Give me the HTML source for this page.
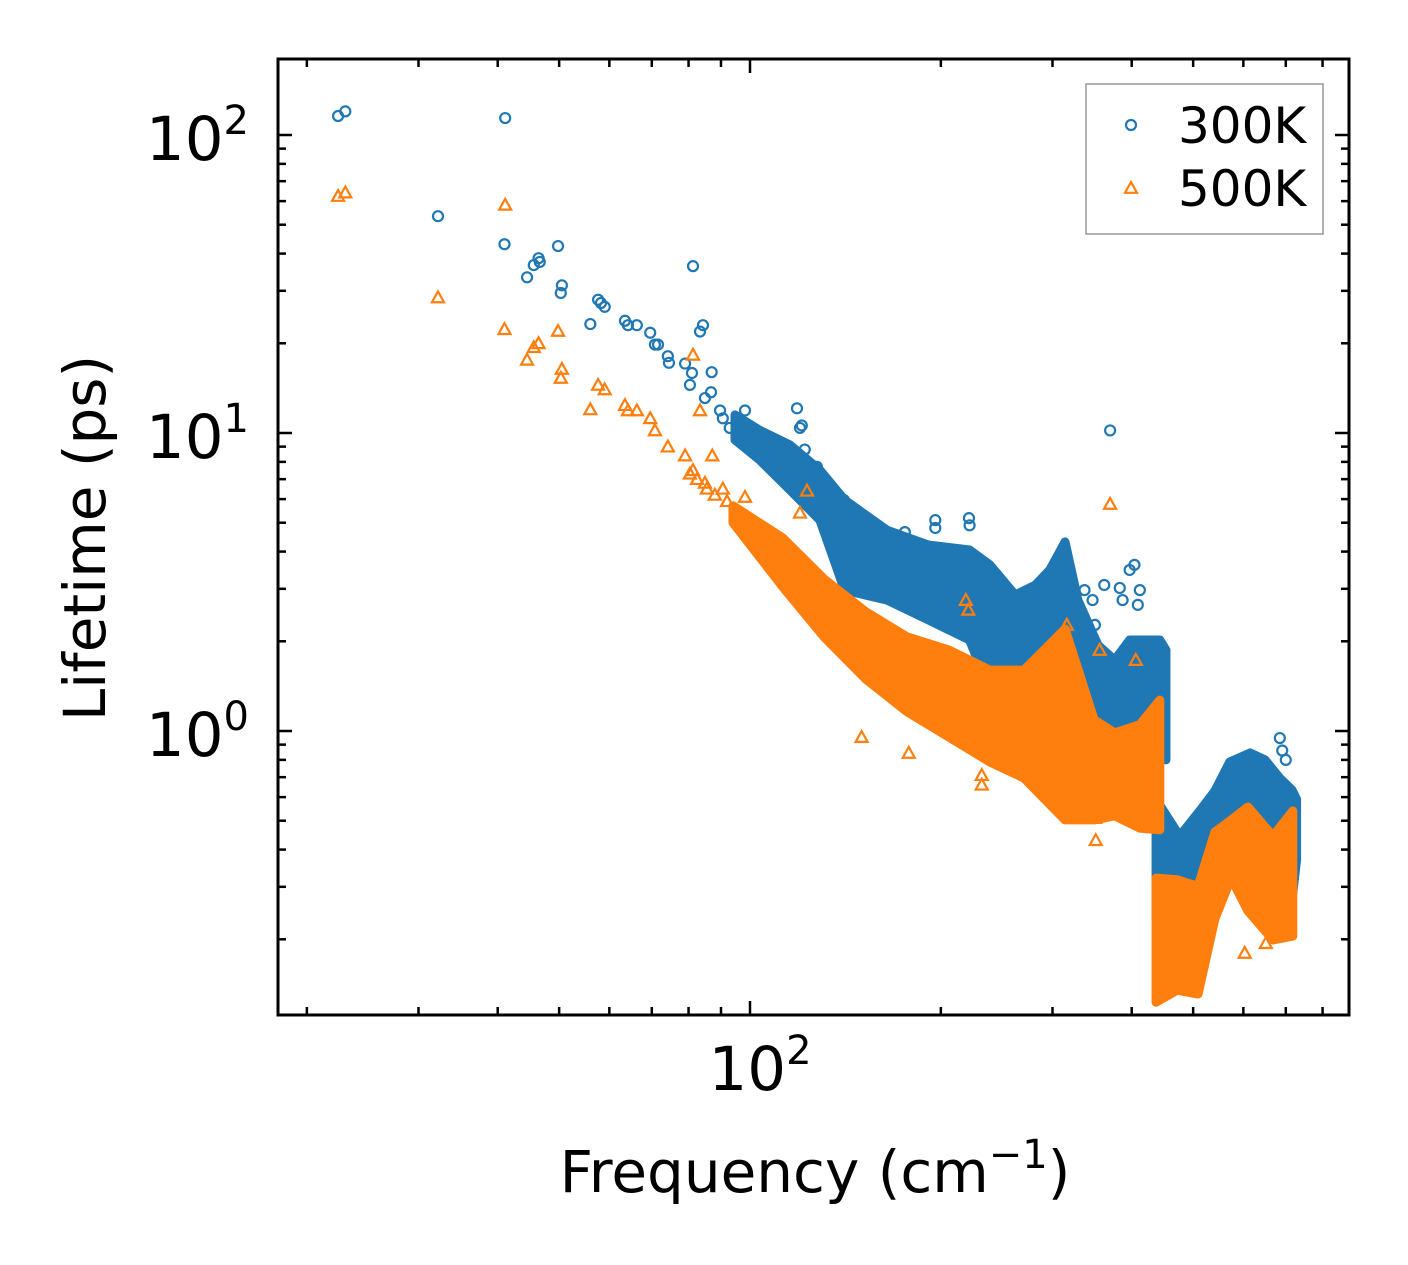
<!DOCTYPE html>
<html><head><meta charset="utf-8"><style>
html,body{margin:0;padding:0;background:#fff;}
svg{display:block;font-family:"DejaVu Sans","Liberation Sans",sans-serif;}
</style></head><body>
<svg id="chart" width="1408" height="1265" viewBox="0 0 1408 1265" xmlns="http://www.w3.org/2000/svg">
<g id="bands"></g><g id="marks"></g><g id="axes"></g>
</svg>
<script>
// ---- data ----
const blueFreq = [22.4,23.0,32.2,41.1,41,44.5,45.6,46.4,46.6,49.8,50.5,50.3,56,57.6,58.2,59,63.5,64.2,66.3,69.6,70.8,71.6,74.2,74.5,79,80.4,81,81.3,83.4,84.3,87,86.8,84.9,89.7,90.6,92.9,98.2,118.6,119.9,120.7,122,127.5,140.6,175.5,196,196,221.5,222,369.8,397,404,383,387,409,412,362,347,350,337,502,603,610,685,691,700];
const blueLife = [115.8,120,53.4,114,43,33.3,36.6,38.6,37.5,42.4,31.3,29.5,23.2,28,27.3,26.5,23.8,23,23,21.7,19.8,19.8,18.1,17.2,17.1,14.5,15.9,36.3,21.9,23,16,13.7,13.1,11.9,11.2,10.4,11.9,12.1,10.4,10.6,8.8,7.7,5.96,4.65,5.1,4.8,5.18,4.9,10.2,3.47,3.61,3.02,2.75,2.65,2.97,3.09,2.75,2.27,2.97,0.138,0.277,0.267,0.947,0.86,0.8];
const orangeFreq = [22.4,23,32.2,41.1,41,44.5,45.6,46.4,49.8,50.5,50.3,56,57.6,59,63.5,64.2,66.3,69.6,70.8,74.2,79,81.3,81.3,83.4,87.2,84.9,90.6,98.2,119.9,123,150,178,232,232,369.8,351,350,603,651,662,687,221,219,316,356,406,80.4,82.5,85.5,88,92];
const orangeLife = [62.4,64.1,28.5,58.3,22.3,17.6,19.4,20,22,16.4,15.3,12,14.5,14,12.4,11.9,11.9,11.2,10.2,9,8.4,18.3,7.5,11.9,8.4,6.8,6.5,6.1,5.4,6.4,0.954,0.844,0.711,0.66,5.78,0.43,0.51,0.18,0.194,0.223,0.32,2.55,2.75,2.27,1.87,1.73,7.3,7.0,6.5,6.2,5.9];
// dense bands (frequency, upper lifetime, lower lifetime)
const blueBandAFreq = [94.7,103.7,115.6,128.9,141,164.5,191,222,239,262,282,297,314,329,354,376,397,443,453];
const blueBandAHi = [11.5,10.2,9.12,7.51,5.96,4.72,4.21,4.05,3.61,2.86,3.09,3.47,4.31,2.75,1.94,1.73,2.02,2.02,1.87];
const blueBandALo = [9.48,8.1,6.44,5.1,2.97,2.75,2.36,2.02,1.37,1.18,1.27,1.27,1.18,1.09,1.01,0.93,1.09,0.93,0.8];
const blueBandBFreq = [437,476,512,541,571,615,649,685,716,728];
const blueBandBHi = [0.59,0.444,0.539,0.629,0.787,0.844,0.8,0.695,0.634,0.59];
const blueBandBLo = [0.232,0.232,0.273,0.321,0.321,0.321,0.27,0.234,0.271,0.37];
const orangeBandAFreq = [94,112.7,130.8,152.4,176.9,206,239,270.5,314,349,376,412,443];
const orangeBandAHi = [5.7,4.44,3.24,2.51,2.07,1.87,1.6,1.6,2.2,1.09,0.985,1.05,1.27];
const orangeBandALo = [5.0,3.04,2.07,1.49,1.16,0.954,0.787,0.695,0.503,0.503,0.519,0.472,0.466];
const orangeBandBFreq = [437,471.6,509,541,574,610,668,718];
const orangeBandBHi = [0.321,0.317,0.301,0.458,0.503,0.556,0.444,0.539];
const orangeBandBLo = [0.123,0.135,0.131,0.234,0.321,0.249,0.199,0.205];
const yTickExps = [0,1,2];
const xTickExps = [2];
const seriesNames = ["300K","500K"];

// ---- axes ----
const PL=278, PR=1349, PT=59, PB=1015;
function X(f){ return 750 + 634*Math.log10(f/100); }
function Y(v){ return 731 - 298*Math.log10(v); }
const NS="http://www.w3.org/2000/svg";
function mk(tag, attrs, parent){ const e=document.createElementNS(NS,tag); for(const k in attrs) e.setAttribute(k,attrs[k]); parent.appendChild(e); return e; }
const BLUE="#1f77b4", ORANGE="#ff7f0e";
const bands=document.getElementById('bands'), marks=document.getElementById('marks'), axes=document.getElementById('axes');

function band(fr,hi,lo,color,name,parent){
  const pts=[]; for(let i=0;i<fr.length;i++) pts.push(X(fr[i])+','+Y(hi[i]));
  for(let i=fr.length-1;i>=0;i--) pts.push(X(fr[i])+','+Y(lo[i]));
  const p=mk('polygon',{points:pts.join(' '),fill:color,stroke:color,'stroke-width':9,'stroke-linejoin':'round'},parent);
  
  
}
function circ(f,v,parent){
  const c=mk('circle',{cx:X(f),cy:Y(v),r:5,fill:'none',stroke:BLUE,'stroke-width':2.2},parent);
  
  
}
function tri(f,v,parent){
  const x=X(f), y=Y(v), s=6;
  const t=mk('polygon',{points:`${x},${y-s} ${x-s},${y+s*0.8} ${x+s},${y+s*0.8}`,fill:'none',stroke:ORANGE,'stroke-width':2.2},parent);
  
  
}
const gB=mk('g',{},bands);  
band(blueBandAFreq,blueBandAHi,blueBandALo,BLUE,'band-300k-low',gB);
band(blueBandBFreq,blueBandBHi,blueBandBLo,BLUE,'band-300k-high',gB);
for(let i=0;i<blueFreq.length;i++) circ(blueFreq[i],blueLife[i],gB);
const gO=mk('g',{},marks);  
band(orangeBandAFreq,orangeBandAHi,orangeBandALo,ORANGE,'band-500k-low',gO);
band(orangeBandBFreq,orangeBandBHi,orangeBandBLo,ORANGE,'band-500k-high',gO);
for(let i=0;i<orangeFreq.length;i++) tri(orangeFreq[i],orangeLife[i],gO);

// frame
const fr=mk('rect',{x:PL,y:PT,width:PR-PL,height:PB-PT,fill:'none',stroke:'#000','stroke-width':3},axes);
 
// y ticks
for(let e=-1;e<=2;e++){ for(let m=1;m<10;m++){ const v=m*Math.pow(10,e); const y=Y(v); if(y<PT||y>PB) continue;
  const L=m===1?14:8;
  mk('line',{x1:PL,y1:y,x2:PL+L,y2:y,stroke:'#000','stroke-width':2.5},axes);
  mk('line',{x1:PR,y1:y,x2:PR-L,y2:y,stroke:'#000','stroke-width':2.5},axes);
}}
for(const e of yTickExps){ const t=mk('text',{x:249,y:Y(Math.pow(10,e))+25,'text-anchor':'end','font-size':61},axes);
   
  t.innerHTML='10<tspan dy="-26" font-size="40">'+e+'</tspan>'; }
// x ticks
for(let e=1;e<=2;e++){ for(let m=1;m<10;m++){ const v=m*Math.pow(10,e); const x=X(v); if(x<PL||x>PR) continue;
  const L=m===1?14:8;
  mk('line',{x1:x,y1:PB,x2:x,y2:PB-L,stroke:'#000','stroke-width':2.5},axes);
  mk('line',{x1:x,y1:PT,x2:x,y2:PT+L,stroke:'#000','stroke-width':2.5},axes);
}}
for(const e of xTickExps){ const t=mk('text',{x:X(Math.pow(10,e))+10,y:1090,'text-anchor':'middle','font-size':61},axes);
   
  t.innerHTML='10<tspan dy="-26" font-size="40">'+e+'</tspan>'; }
// axis titles
const xt=mk('text',{x:815,y:1192,'text-anchor':'middle','font-size':58},axes);
 
xt.innerHTML='Frequency (cm<tspan dy="-24" font-size="40">−1</tspan><tspan dy="24">)</tspan>';
const yt=mk('text',{x:0,y:0,'text-anchor':'middle','font-size':58,transform:'translate(105,538) rotate(-90)'},axes);
 
yt.textContent='Lifetime (ps)';
// legend
const lg=mk('g',{},axes);  
mk('rect',{x:1086,y:84,width:237,height:150,fill:'#fff',stroke:'#999','stroke-width':1.5},lg);
const e1=mk('circle',{cx:1131,cy:125,r:5,fill:'none',stroke:BLUE,'stroke-width':2.2},lg);
 
mk('polygon',{points:'1131,182 1125,192.8 1137,192.8',fill:'none',stroke:ORANGE,'stroke-width':2.2},lg);
const l1=mk('text',{x:1178,y:143,'font-size':50},lg); l1.textContent=seriesNames[0];
 
const l2=mk('text',{x:1178,y:206,'font-size':50},lg); l2.textContent=seriesNames[1];
 
</script>
</body></html>
